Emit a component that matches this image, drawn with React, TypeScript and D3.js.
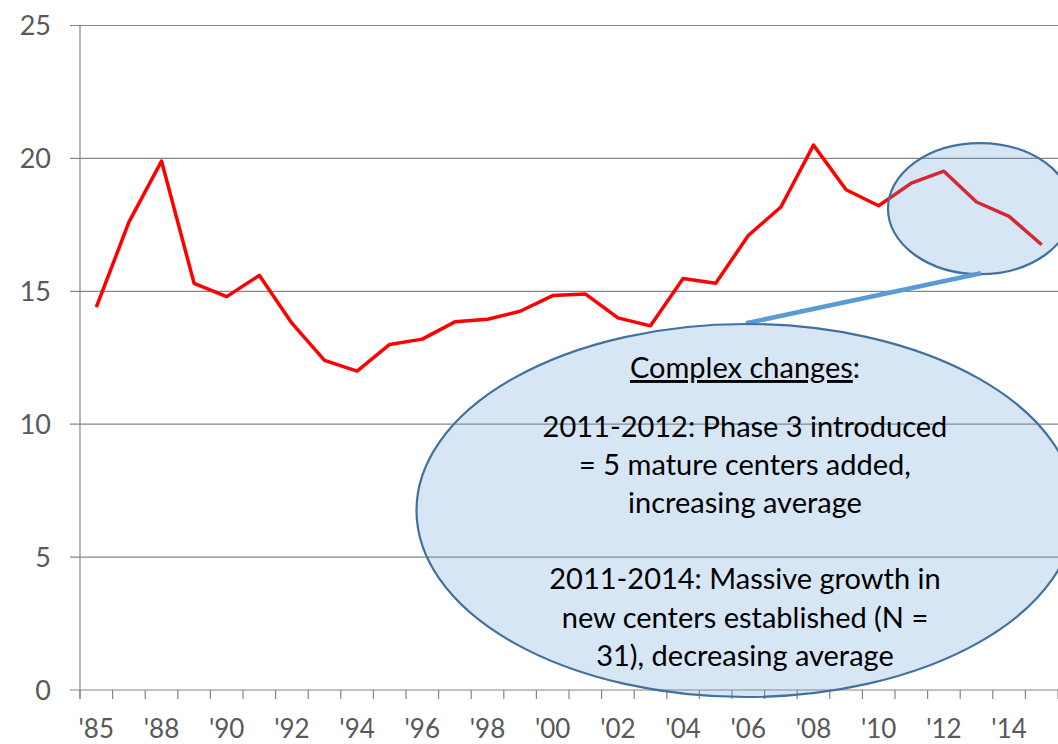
import React from "react";
import * as d3 from "d3";

const categories = [
  "'85", "'86", "'88", "'89", "'90", "'91", "'92", "'93", "'94", "'95",
  "'96", "'97", "'98", "'99", "'00", "'01", "'02", "'03", "'04", "'05",
  "'06", "'07", "'08", "'09", "'10", "'11", "'12", "'13", "'14", "'15",
];
const values = [
  14.4, 17.6, 19.9, 15.3, 14.8, 15.6, 13.8, 12.4, 12.0, 13.0,
  13.2, 13.85, 13.95, 14.25, 14.84, 14.9, 14.0, 13.7, 15.48, 15.3,
  17.1, 18.17, 20.5, 18.82, 18.22, 19.07, 19.52, 18.36, 17.82, 16.75,
];
const yTicks = [0, 5, 10, 15, 20, 25];
const titleText = "Complex changes";
const para1 = ["2011-2012: Phase 3 introduced", "= 5 mature centers added,", "increasing average"];
const para2 = ["2011-2014: Massive growth in", "new centers established (N =", "31), decreasing average"];

const W = 1058;
const H = 744;
const FONT = "Lato, 'Noto Sans', sans-serif";

export default function App() {
  const x = d3.scaleBand<string>().domain(categories).range([80, 1058]).padding(0);
  const y = d3.scaleLinear().domain([0, 25]).range([690, 25.5]);
  const cx = (c: string) => (x(c) as number) + x.bandwidth() / 2;

  const line = d3
    .line<number>()
    .x((_, i) => cx(categories[i]))
    .y((d) => y(d));

  const bandEdges = categories.map((c) => x(c) as number).concat([1058]);

  const bigLines1Y = [437, 475, 513];
  const bigLines2Y = [589, 628, 666];

  return (
    <svg
      width={W}
      height={H}
      style={{ position: "absolute", left: 0, top: 0, background: "#fff" }}
      fontFamily={FONT}
    >
      {yTicks.map((t) => (
        <line key={"g" + t} x1={70} x2={W} y1={y(t)} y2={y(t)} stroke="#868686" strokeWidth={1.2} />
      ))}
      <line x1={80} x2={80} y1={y(25)} y2={699} stroke="#868686" strokeWidth={1.2} />
      {bandEdges.map((e, i) => (
        <line key={"xt" + i} x1={e} x2={e} y1={y(0)} y2={699} stroke="#868686" strokeWidth={1.2} />
      ))}
      {yTicks.map((t) => (
        <text key={"yl" + t} x={51} y={y(t)} dy="0.36em" textAnchor="end" fontSize={27} fill="#595959">
          {t}
        </text>
      ))}
      {categories.map((c, i) =>
        i % 2 === 0 ? (
          <text key={"xl" + c} x={cx(c)} y={738} textAnchor="middle" fontSize={26} fill="#595959">
            {c}
          </text>
        ) : null
      )}
      <path d={line(values) || ""} fill="none" stroke="#FF0000" strokeWidth={3.5} strokeLinejoin="round" />

      <ellipse cx={980} cy={208.7} rx={92} ry={65.5} fill="#5B9BD5" fillOpacity={0.25} stroke="#41719C" strokeWidth={2.2} />
      <line x1={746} y1={323.3} x2={981} y2={273.3} stroke="#5B9BD5" strokeWidth={4.5} />
      <ellipse cx={746} cy={510.5} rx={329.5} ry={186.5} fill="#5B9BD5" fillOpacity={0.25} stroke="#41719C" strokeWidth={2.2} />

      <text x={745} y={378} textAnchor="middle" fontSize={29} fill="#000">
        <tspan style={{ textDecoration: "underline" }}>{titleText}</tspan>
        <tspan>:</tspan>
      </text>
      {para1.map((s, i) => (
        <text key={"p1" + i} x={745} y={bigLines1Y[i]} textAnchor="middle" fontSize={29} fill="#000">
          {s}
        </text>
      ))}
      {para2.map((s, i) => (
        <text key={"p2" + i} x={745} y={bigLines2Y[i]} textAnchor="middle" fontSize={29} fill="#000">
          {s}
        </text>
      ))}
    </svg>
  );
}
